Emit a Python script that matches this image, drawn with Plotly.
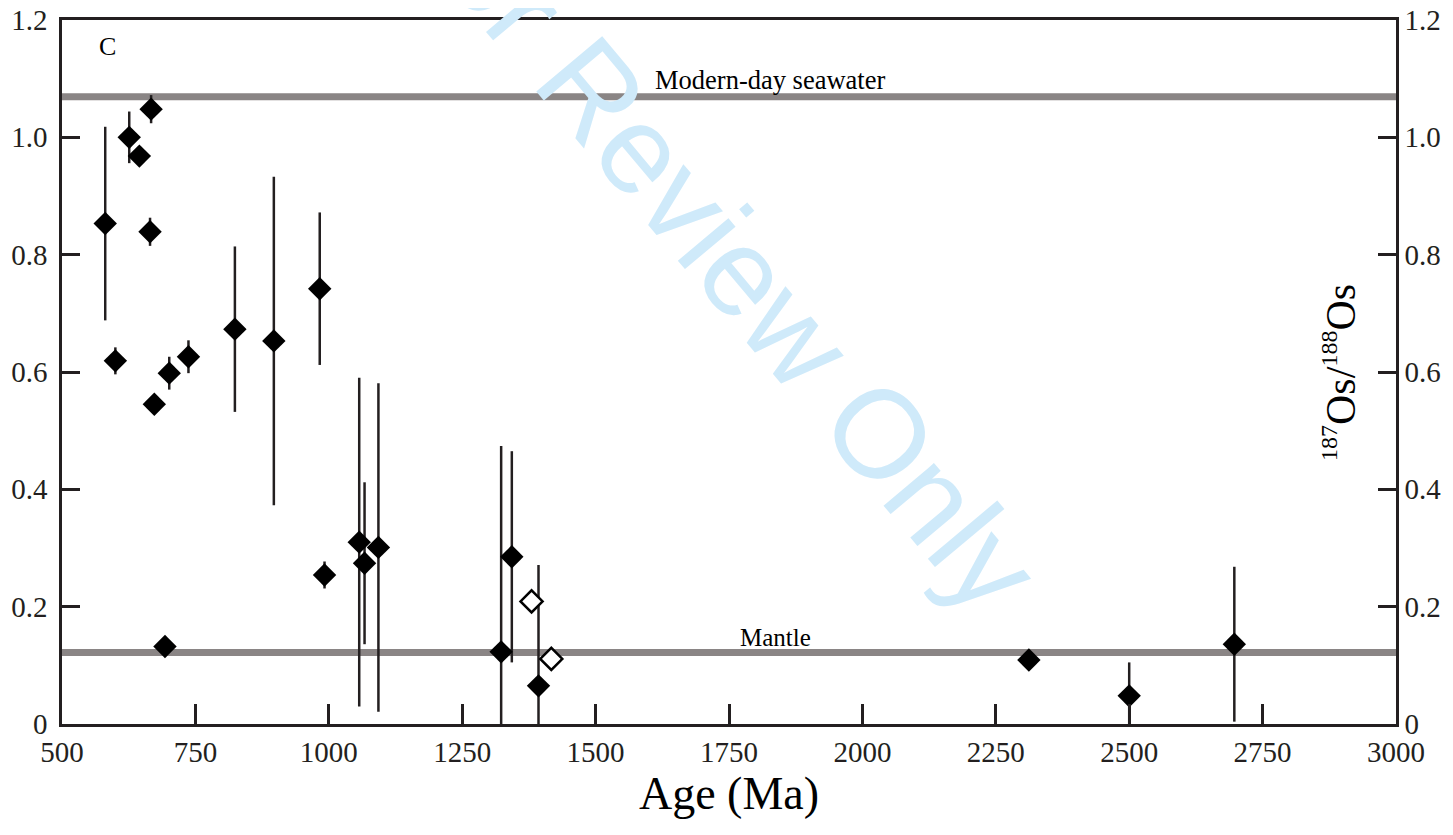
import plotly.graph_objects as go

# ---- data ----
AGE = [581, 626, 645, 667, 665, 600, 673, 701, 737, 824, 897, 983, 992,
       1057, 1067, 1093, 693, 1323, 1343, 1393, 2312, 2500, 2697]
RATIO = [0.853, 1.000, 0.968, 1.048, 0.839, 0.619, 0.545, 0.598, 0.626,
         0.673, 0.653, 0.742, 0.254, 0.310, 0.274, 0.301, 0.132, 0.123,
         0.285, 0.065, 0.109, 0.048, 0.136]
ERR = [0.165, 0.044, 0.0, 0.024, 0.024, 0.023, 0.0, 0.028, 0.028,
       0.141, 0.280, 0.130, 0.023, 0.280, 0.138, 0.280, 0.0, 0.351,
       0.180, 0.206, 0.0, 0.057, 0.132]
OPEN_AGE = [1380, 1417]
OPEN_RATIO = [0.209, 0.111]

SEAWATER = 1.069
MANTLE = 0.122
REF_LABELS = ["Modern-day seawater", "Mantle"]
REF_LABEL_X = [1826, 1838]
REF_LABEL_Y = [1.097, 0.148]
REF_LABEL_SIZE = [26.5, 25]

X_TICKS = [500, 750, 1000, 1250, 1500, 1750, 2000, 2250, 2500, 2750, 3000]
Y_TICKS = [0, 0.2, 0.4, 0.6, 0.8, 1.0, 1.2]
Y_TICKTEXT = ["0", "0.2", "0.4", "0.6", "0.8", "1.0", "1.2"]

INK = "#231f20"
GRAY = "#8a8585"
SERIF = "Liberation Serif, Times New Roman, serif"

fig = go.Figure()

# reference lines
for val in (SEAWATER, MANTLE):
    fig.add_hline(y=val, line=dict(color=GRAY, width=7), layer="below")

fig.add_trace(go.Scatter(
    x=AGE, y=RATIO, mode="markers",
    marker=dict(symbol="diamond", size=18, color="black", line=dict(width=0)),
    error_y=dict(type="data", array=ERR, visible=True, color=INK,
                 thickness=2.5, width=0),
    showlegend=False, hoverinfo="x+y"))

fig.add_trace(go.Scatter(
    x=OPEN_AGE, y=OPEN_RATIO, mode="markers", yaxis="y2",
    marker=dict(symbol="diamond", size=17, color="white",
                line=dict(width=2.5, color="black")),
    showlegend=False, hoverinfo="x+y"))

annotations = []
for txt, ax, ay, sz in zip(REF_LABELS, REF_LABEL_X, REF_LABEL_Y, REF_LABEL_SIZE):
    annotations.append(dict(x=ax, y=ay, xref="x", yref="y", text=txt,
                            showarrow=False, xanchor="center", yanchor="middle",
                            font=dict(family=SERIF, size=sz, color="black")))

# panel letter
annotations.append(dict(x=0.034, y=0.962, xref="paper", yref="paper", text="C",
                        showarrow=False, xanchor="center", yanchor="middle",
                        font=dict(family=SERIF, size=26, color="black")))
# right-axis title (sits inside the frame in the reference)
annotations.append(dict(x=0.958, y=0.5, xref="paper", yref="paper",
                        text=("<sup><span style='font-size:24px'>187</span></sup>Os/"
                              "<sup><span style='font-size:24px'>188</span></sup>Os"),
                        textangle=-90, showarrow=False,
                        xanchor="center", yanchor="middle",
                        font=dict(family=SERIF, size=42, color="black")))
# watermark
annotations.append(dict(x=0.491, y=0.688, xref="paper", yref="paper",
                        text="For Review Only", textangle=50,
                        showarrow=False, xanchor="center", yanchor="middle",
                        font=dict(family="Liberation Sans, Arial, sans-serif",
                                  size=125, color="#cfeafa")))

axis_common = dict(showline=True, linecolor=INK, linewidth=2.5,
                   ticks="inside", tickcolor=INK, tickwidth=2.5,
                   showgrid=False, zeroline=False, automargin=False,
                   ticklabeloverflow="allow",
                   tickfont=dict(family=SERIF, size=29, color=INK))

# the page body adds an 8px offset, so the figure is 8px smaller
fig.update_layout(
    width=1445, height=827,
    margin=dict(l=54, r=57, t=12, b=111),
    paper_bgcolor="white", plot_bgcolor="white",
    xaxis=dict(range=[500, 3000], tickvals=X_TICKS, ticklen=20, mirror=True,
               title=dict(text="Age (Ma)", standoff=8,
                          font=dict(family=SERIF, size=46, color="black")),
               **axis_common),
    yaxis=dict(range=[0, 1.2], tickvals=Y_TICKS, ticktext=Y_TICKTEXT,
               ticklen=18, ticklabelstandoff=6, **axis_common),
    yaxis2=dict(range=[0, 1.2], tickvals=Y_TICKS, ticktext=Y_TICKTEXT,
                overlaying="y", side="right", anchor="x",
                ticklen=18, **axis_common),
    annotations=annotations,
)

fig.write_html("out.html")
